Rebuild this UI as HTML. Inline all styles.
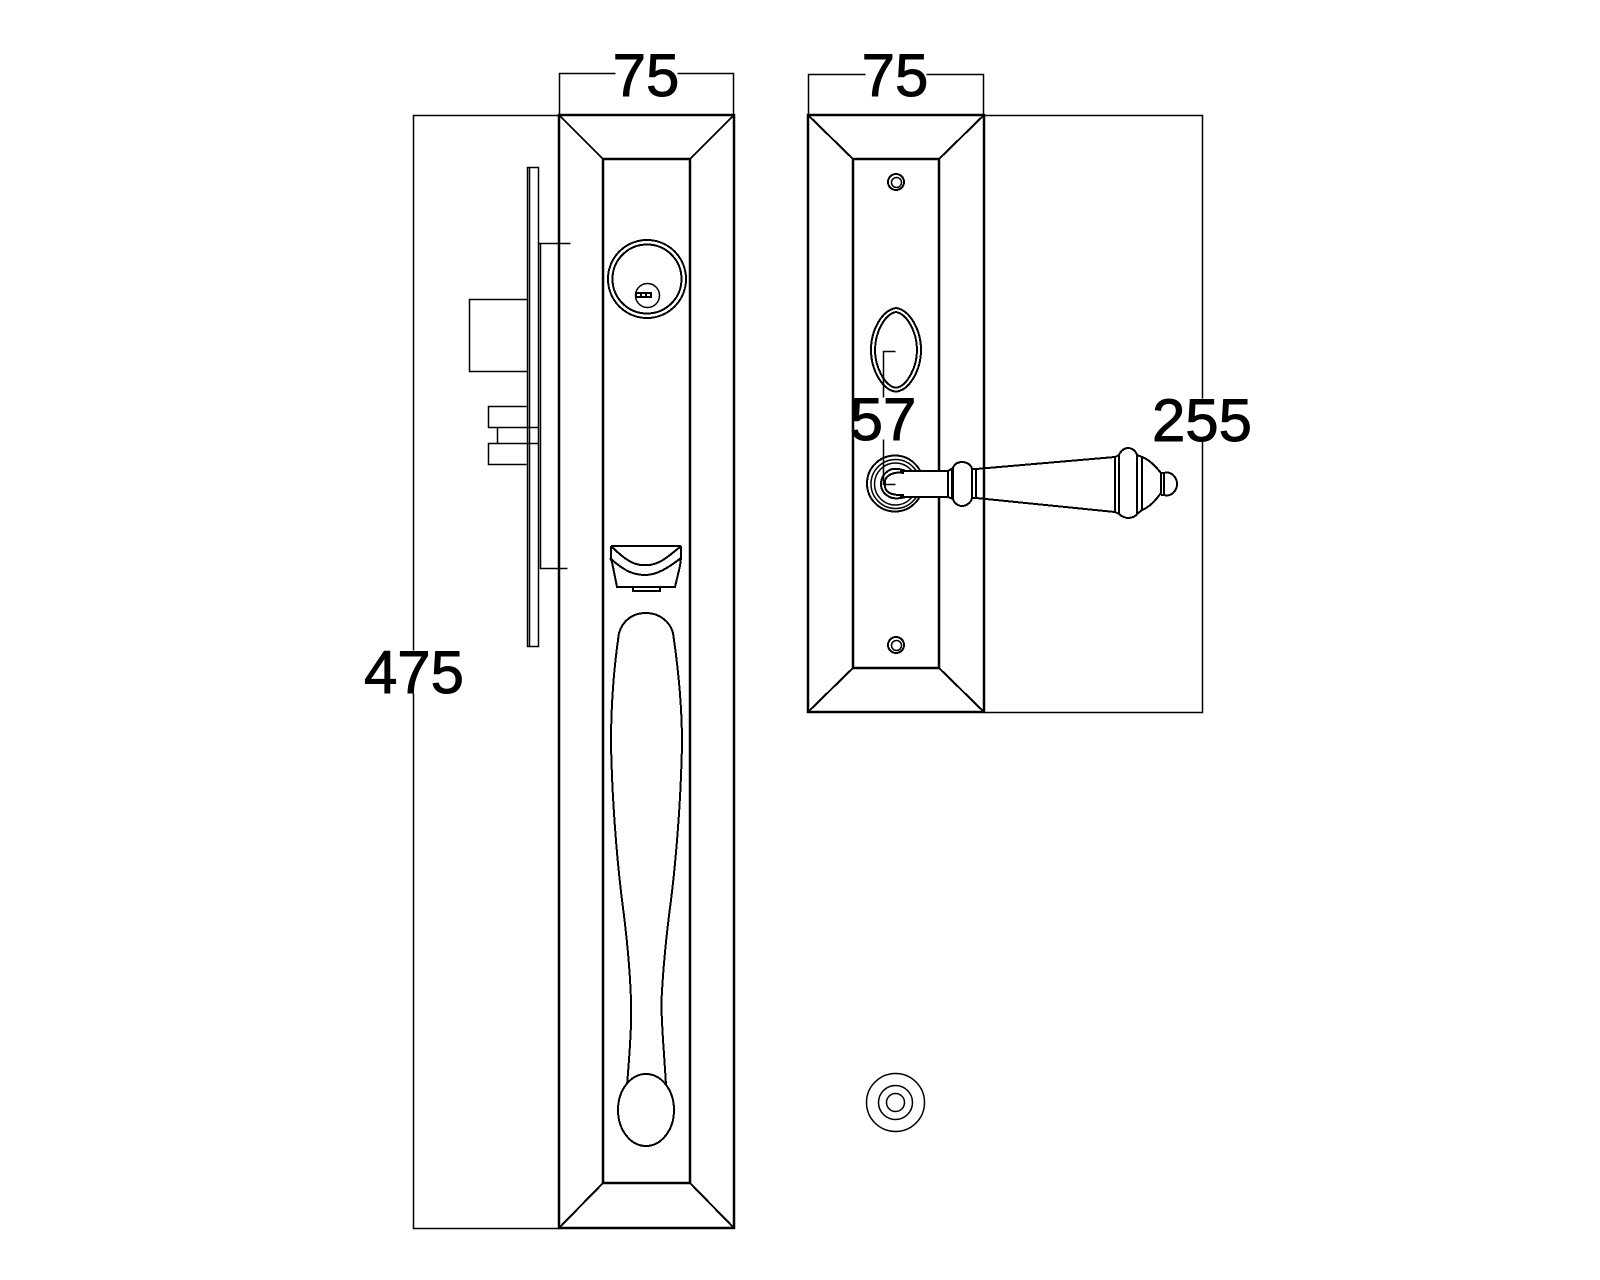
<!DOCTYPE html>
<html><head><meta charset="utf-8"><style>
html,body{margin:0;padding:0;background:#fff}
svg{display:block}
.t{stroke:#000;stroke-width:1.5;fill:none;transform:translate(.5px,.5px)}
.m{stroke:#000;stroke-width:2;fill:none;shape-rendering:crispEdges}
.b{stroke:#000;stroke-width:2.5;fill:none}
.d{stroke:#000;stroke-width:2;fill:none;shape-rendering:crispEdges}
text{font-family:"Liberation Sans",Arial,sans-serif;font-size:60px;fill:#000;stroke:#000;stroke-width:.9;text-anchor:middle}
</style></head><body>
<svg width="1600" height="1280" viewBox="0 0 1600 1280" xmlns="http://www.w3.org/2000/svg">
<rect width="1600" height="1280" fill="#fff"/>
<!-- dimensions left -->
<path class="t" d="M559 115V73H615M677 73H733V115"/>
<path class="t" d="M559 115H413V650M413 693V1228H559"/>
<!-- dimensions right -->
<path class="t" d="M808 115V74H865M926 74H983V115"/>
<path class="t" d="M983 115H1202V398M1202 441V712H983"/>
<!-- left plate -->
<rect class="b" x="559" y="115" width="175" height="1113"/>
<rect class="b" x="603" y="159" width="87" height="1024"/>
<path class="d" d="M559 115L603 159M734 115L690 159M559 1228L603 1183M734 1228L690 1183"/>
<!-- right plate -->
<rect class="b" x="808" y="115" width="176" height="597"/>
<rect class="b" x="853" y="159" width="86" height="509"/>
<path class="d" d="M808 115L853 159M984 115L939 159M808 712L853 668M984 712L939 668"/>
<!-- side view -->
<path class="t" d="M527 167H538V646H527ZM529 167V646"/>
<path class="t" d="M538 243H570M540 243V568H567"/>
<path class="t" d="M527 299H469V371H527"/>
<path class="t" d="M526 406H488V427H538M526 464H488V443H538M497 427V443"/>
<!-- cylinder -->
<circle class="d" cx="647" cy="279" r="39"/>
<circle class="d" cx="647" cy="279" r="34.500"/>
<circle class="t" cx="647" cy="295" r="12"/>
<rect x="635" y="292" width="17" height="6" fill="#000"/>
<rect x="637" y="294" width="3" height="2" fill="#fff"/>
<rect x="642" y="294" width="3" height="2" fill="#fff"/>
<rect x="647" y="294" width="3" height="2" fill="#fff"/>
<!-- thumb piece -->
<path class="m" d="M611 546H681M611 546C625 560 635 566 645 565C657 566 667 558 681 546"/>
<path class="m" d="M610 558C625 572 635 575 645 575C657 575 668 568 681 558"/>
<path class="m" d="M610 558L612 562L617 587H675L680 566L681 558M681 546V558M611 546V558"/>
<path class="m" d="M633 587V591H660V587"/>
<!-- handle -->
<path class="m" d="M627 1085C630 1050 632 1020 631 1000C630 970 626 930 622 900C617 860 612 800 611 743C611 700 615 660 619 633C623 620 633 613 646 613C660 613 670 622 673 633C677 660 682 700 682 743C681 800 676 860 671 900C667 930 663 970 661.500 1000C661 1020 664 1050 666 1085"/>
<ellipse class="m" cx="646" cy="1110" rx="28" ry="36" style="fill:#fff"/>
<!-- screws -->
<circle class="m" cx="896" cy="182" r="8"/><circle class="t" cx="896" cy="182" r="5"/>
<circle class="m" cx="896" cy="645" r="8"/><circle class="t" cx="896" cy="645" r="5"/>
<!-- oval -->
<path class="d" d="M896 308C910 310 921 330 921 350C921 370 910 388 899 391C897 392 895 392 893 391C882 388 871 370 871 350C871 330 882 310 896 308Z"/>
<path class="d" d="M896 312C907 314 917 332 917 350C917 368 907 384 899 387C897 388 895 388 893 387C885 384 875 368 875 350C875 332 885 314 896 312Z"/>
<path class="t" d="M895 351H883V397M883 439V484H895"/>
<!-- rosette -->
<circle class="d" cx="895" cy="483.500" r="28"/>
<circle class="t" cx="895" cy="483.500" r="24.500"/>
<circle class="t" cx="895" cy="483.500" r="21"/>
<path fill="#fff" stroke="none" d="M898 472H948V496H898Z"/>
<path fill="#fff" stroke="none" d="M921 450H930V518H921Z"/>
<path class="d" d="M906 471C898 468 892 468 888 471C882 475 881 480 881 484C881 489 883 493 888 496C892 499 898 499 906 497"/>
<path class="d" d="M904 473C896 472 891 473 887 477C884 480 884 488 887 491C891 495 896 495 904 495"/>
<path class="d" d="M900 471H948M900 497H948"/>
<!-- lever -->
<path class="m" d="M948 471V497M952 469V499"/>
<path class="m" d="M948 471L953 468C954 464 958 462 962 462C966 462 971 464 972 469V498C971 503 966 506 962 506C958 506 954 503 953 499L948 497"/>
<path class="m" d="M953 468V499"/>
<path class="m" d="M972 469H976V498H972"/>
<path class="m" d="M976 469L1115 457M976 498L1115 512"/>
<path class="m" d="M1115 457V512"/>
<path class="m" d="M1115 457L1119 455C1121 450 1125 448 1128 448C1132 448 1136 451 1137 455V514C1136 516 1132 518 1128 518C1125 518 1121 516 1119 514L1115 512"/>
<path class="m" d="M1119 455V514"/>
<path class="m" d="M1137 455L1142 457V510L1137 514"/>
<path class="m" d="M1142 457C1150 460 1156 467 1161 473V493C1156 500 1150 507 1142 510"/>
<path class="m" d="M1161 473H1164V495H1161"/>
<path class="m" d="M1164 473C1171 471 1177 477 1177 484C1177 491 1171 497 1164 495"/>
<!-- bottom circles -->
<circle class="t" cx="895" cy="1102" r="29"/>
<circle class="t" cx="895" cy="1102" r="17"/>
<circle class="t" cx="895" cy="1102" r="9"/>
<!-- labels -->
<text x="646" y="96">75</text>
<text x="895" y="96">75</text>
<text x="883" y="440">57</text>
<text x="1202" y="441">255</text>
<text x="414" y="693">475</text>
</svg>
</body></html>
